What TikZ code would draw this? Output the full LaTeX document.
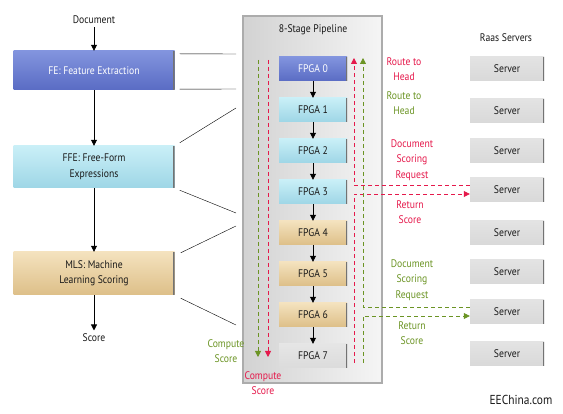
\documentclass[tikz,border=0pt]{standalone}
\usepackage{fontspec}
\setmainfont{PT Sans}[FakeStretch=0.88]
\usetikzlibrary{positioning,arrows.meta}

\definecolor{feblue}{HTML}{5A6CC4}
\definecolor{feblueL}{HTML}{8294DE}
\definecolor{ffecyan}{HTML}{9ED6E6}
\definecolor{ffecyanL}{HTML}{C9EFF7}
\definecolor{mlstan}{HTML}{DDBF88}
\definecolor{mlstanL}{HTML}{F4E2BE}
\definecolor{routered}{HTML}{E5194B}
\definecolor{routegreen}{HTML}{6B9424}

\begin{document}
\begin{tikzpicture}[x=1pt,y=-1pt,
  every node/.style={font=\fontsize{11}{15.5}\selectfont,text=black!90},
  edgeline/.style={path picture={\draw[black!55,line width=2.4pt]
      (path picture bounding box.north east) -- (path picture bounding box.south east);}},
  stagebox/.style={edgeline,minimum width=161pt,inner sep=0pt,align=center},
  fpgabox/.style={edgeline,minimum width=68pt,minimum height=24pt,inner sep=0pt},
  serverbox/.style={edgeline,minimum width=74pt,minimum height=24pt,inner sep=0pt,
      top color=gray!22,middle color=white,bottom color=gray!30},
  blueshade/.style={top color=feblueL,bottom color=feblue,text=white},
  cyanshade/.style={top color=ffecyanL,bottom color=ffecyan},
  tanshade/.style={top color=mlstanL,bottom color=mlstan},
  silvershade/.style={top color=gray!20,middle color=white,bottom color=gray!28},
  flow/.style={-{Triangle[length=6pt,width=6pt]},thick},
  tip/.style={-{Triangle[length=6pt,width=6pt]}},
  redpath/.style={routered,line width=0.8pt,dash pattern=on 4pt off 3pt},
  greenpath/.style={routegreen,line width=0.8pt,dash pattern=on 4pt off 3pt},
  redtext/.style={text=routered,align=center},
  greentext/.style={text=routegreen,align=center}
]
\useasboundingbox (0,0) rectangle (563,414);

% left column
\node (doc) at (94,20) {Document};
\node[stagebox,blueshade,minimum height=39pt] (fe) at (94,70.5) {FE: Feature Extraction};
\node[stagebox,cyanshade,minimum height=42pt] (ffe) at (94,167) {FFE: Free-Form\\Expressions};
\node[stagebox,tanshade,minimum height=43pt] (mls) at (94,273.5) {MLS: Machine\\Learning Scoring};
\node (score) at (94,338) {Score};
\draw[flow] (doc) -- (fe);
\draw[flow] (fe) -- (ffe);
\draw[flow] (ffe) -- (mls);
\draw[flow] (mls) -- (score);

% pipeline
\node[draw=gray!65,line width=1.5pt,left color=gray!35,right color=gray!8,
  minimum width=139pt,minimum height=367pt,inner sep=0pt] (pipe) at (312.5,199.5) {};
\node (ptitle) at (313,30) {8-Stage Pipeline};
\foreach \i/\look in {0/blueshade,1/cyanshade,2/cyanshade,3/cyanshade,
                      4/tanshade,5/tanshade,6/tanshade,7/silvershade}
  \node[fpgabox,\look] (f\i) at (313,{69+41*\i}) {FPGA \i};
\foreach \i [evaluate=\i as \j using int(\i+1)] in {0,...,6}
  \draw[flow] (f\i) -- (f\j);

% zoom lines
\coordinate (pin) at (236,0);
\draw ([shift={(5,3)}]fe.north east) -- (pin |- 0,54);
\draw ([shift={(5,-1)}]fe.south east) -- (pin |- 0,89);
\draw ([shift={(5,-3)}]ffe.north east) -- (pin |- 0,108);
\draw ([shift={(5,2)}]ffe.south east) -- (pin |- 0,213);
\draw ([shift={(6,1)}]mls.north east) -- (pin |- 0,226);
\draw ([shift={(6,3)}]mls.south east) -- (pin |- 0,325);

% servers
\node (raas) at (506,38) {Raas Servers};
\foreach \i/\y in {1/69,2/111,3/151,4/190,5/233,6/272,7/312,8/354}
  \node[serverbox] (s\i) at (507,\y) {Server};

% score paths
\coordinate (gtop) at (258,60);
\coordinate (gbot) at (258,357);
\coordinate (rtop) at (268,60);
\coordinate (rbot) at (268,357);
\coordinate (rhead) at (354,58);
\coordinate (rtail) at (354,363);
\coordinate (ghead) at (363,58);
\coordinate (gtail) at (363,363);
\draw[greenpath,tip] (gtop) -- (gbot);
\draw[redpath,tip] (rtop) -- (rbot);
\draw[redpath,tip] (s4.west |- 0,185) -| (rhead);
\draw[redpath,tip] (rtail) |- (s4.west |- 0,194);
\draw[greenpath,tip] (s7.west |- 0,307) -| (ghead);
\draw[greenpath,tip] (gtail) |- (s7.west |- 0,316);

% labels
\node[redtext] (rroute) at (404,69) {Route to\\Head};
\node[greentext] (groute) at (404,103) {Route to\\Head};
\node[redtext] (rreq) at (412,160) {Document\\Scoring\\Request};
\node[redtext] (rret) at (410,212) {Return\\Score};
\node[greentext] (greq) at (412,280) {Document\\Scoring\\Request};
\node[greentext] (gret) at (412,333) {Return\\Score};
\node[greentext] (gcomp) at (226,351) {Compute\\Score};
\node[redtext] (rcomp) at (263,383) {Compute\\Score};
\node[font=\fontsize{13}{15}\selectfont] (site) at (521,400) {EEChina.com};

\end{tikzpicture}
\end{document}
